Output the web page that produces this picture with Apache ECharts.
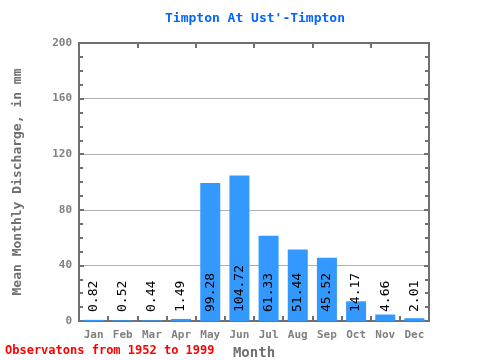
<!DOCTYPE html>
<html><head><meta charset="utf-8">
<script src="https://cdn.jsdelivr.net/npm/echarts@6/dist/echarts.min.js"></script>
<style>html,body{margin:0;padding:0;background:#fff}#c{width:480px;height:360px}</style>
</head><body><div id="c"></div>
<script>
var months = ['Jan','Feb','Mar','Apr','May','Jun','Jul','Aug','Sep','Oct','Nov','Dec'];
var discharge = [0.82,0.52,0.44,1.49,99.28,104.72,61.33,51.44,45.52,14.17,4.66,2.01];
var labels = ['0.82','0.52','0.44','1.49','99.28','104.72','61.33','51.44','45.52','14.17','4.66','2.01'];
var titleText = "Timpton At Ust'-Timpton";
var yName = 'Mean Monthly Discharge, in mm';
var xName = 'Month';
var note = 'Observatons from 1952 to 1999';

var mono = '"DejaVu Sans Mono", "Liberation Mono", monospace';
var axisColor = '#707070';
var chart = echarts.init(document.getElementById('c'), null, {renderer:'canvas'});
chart.setOption({
  animation: false,
  title: {text: titleText, left: 250, top: 7, textAlign: 'center',
    textStyle: {color: '#0066ff', fontFamily: mono, fontWeight: 'bold', fontSize: 13}},
  graphic: [{type:'text', left: 5, top: 345, style:{text: note, fill:'#ff0000', font: 'bold 12px ' + mono}}],
  grid: {left: 79, right: 51, top: 43, bottom: 39, containLabel: false, outerBoundsMode: 'none'},
  xAxis: [{
    type: 'category', data: months, position: 'bottom',
    name: xName, nameLocation: 'middle', nameGap: 18,
    nameTextStyle: {color: axisColor, fontFamily: mono, fontWeight: 'bold', fontSize: 14},
    axisLine: {show: true, onZero: false, lineStyle: {color: axisColor, width: 2}},
    axisTick: {show: true, inside: true, length: 5, alignWithLabel: false, lineStyle: {color: axisColor, width: 2}},
    axisLabel: {color: '#808080', fontFamily: mono, fontWeight: 'bold', fontSize: 11, margin: 9}
  },{
    type: 'category', data: months, position: 'top',
    axisLine: {show: true, onZero: false, lineStyle: {color: axisColor, width: 2}},
    axisTick: {show: true, inside: true, length: 5, alignWithLabel: false, lineStyle: {color: axisColor, width: 2}},
    axisLabel: {show: false},
    splitLine: {show: false}
  }],
  yAxis: [{
    type: 'value', min: 0, max: 200, interval: 40, position: 'left',
    name: yName, nameLocation: 'middle', nameGap: 55,
    nameTextStyle: {color: axisColor, fontFamily: mono, fontWeight: 'bold', fontSize: 13},
    axisLine: {show: true, onZero: false, lineStyle: {color: axisColor, width: 2}},
    axisTick: {show: true, inside: true, length: 5, lineStyle: {color: axisColor, width: 2}},
    minorTick: {show: true, splitNumber: 4, length: 4, lineStyle: {color: axisColor, width: 2}},
    splitLine: {show: true, lineStyle: {color: '#b0b0b0', width: 1}},
    axisLabel: {color: '#808080', fontFamily: mono, fontWeight: 'bold', fontSize: 11, margin: 7}
  },{
    type: 'value', min: 0, max: 200, interval: 40, position: 'right',
    axisLine: {show: true, onZero: false, lineStyle: {color: axisColor, width: 2}},
    axisTick: {show: true, inside: true, length: 5, lineStyle: {color: axisColor, width: 2}},
    minorTick: {show: true, splitNumber: 4, length: 4, lineStyle: {color: axisColor, width: 2}},
    splitLine: {show: false},
    axisLabel: {show: false}
  }],
  series: [{
    type: 'bar', data: discharge, barWidth: 20, xAxisIndex: 0, yAxisIndex: 0,
    itemStyle: {color: '#3399ff'},
    label: {show: true, position: 'insideBottom', rotate: 90, align: 'left', verticalAlign: 'middle',
      distance: 9, color: '#000', fontFamily: mono, fontSize: 13,
      formatter: function(p){ return labels[p.dataIndex]; }}
  }]
});
</script></body></html>
